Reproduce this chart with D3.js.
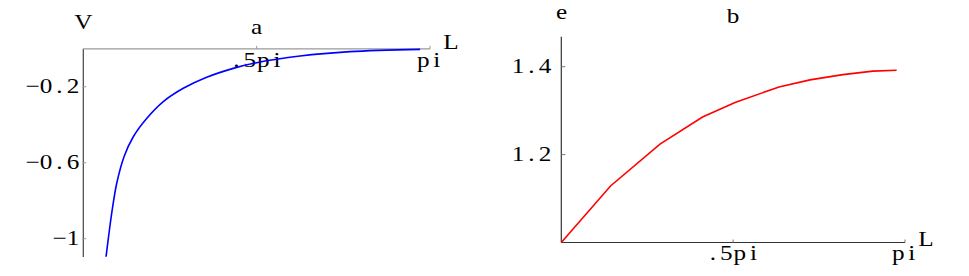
<!DOCTYPE html>
<html><head><meta charset="utf-8">
<script src="https://cdn.jsdelivr.net/npm/d3@7"></script>
<style>body{margin:0;background:#fff}svg{display:block}</style>
</head><body>
<svg id="c" width="969" height="276"></svg>
<script>
// Panel a: V vs L
const aL = [0.206,0.227,0.257,0.303,0.369,0.453,0.574,0.725,0.906,1.118,1.359,1.571,1.964,2.417,3.052];
const aV = [-1.095,-0.998,-0.868,-0.708,-0.568,-0.463,-0.367,-0.278,-0.208,-0.150,-0.103,-0.073,-0.038,-0.015,-0.003];
const aYTicks = [-0.2,-0.6,-1];
const aYLabels = ["-0.2","-0.6","-1"];
// Panel b: e vs L
const bL = [0,0.450,0.902,1.291,1.588,1.990,2.273,2.574,2.848,3.065];
const bE = [1.0,1.1286,1.224,1.2856,1.3185,1.354,1.370,1.382,1.390,1.392];
const bYTicks = [1.2,1.4];
const bYLabels = ["1.2","1.4"];
const xTicks = [Math.PI/2, Math.PI];
const xLabels = [".5pi","pi"];

const svg = d3.select("#c");
const FONT = "Liberation Serif, Times New Roman, serif";
const FS = 21, SX = 1.2, PITCH = 13.5;
// monospaced-looking label: each character centred in a fixed-width cell
function label(x, y, s, anchor) {
  s = s.replace("-", "\u2212");
  const n = s.length;
  let centers;
  if (anchor === "end") centers = d3.range(n).map(i => x - (n - 1 - i) * PITCH - 7);
  else centers = d3.range(n).map(i => x + (i - (n - 1) / 2) * PITCH);
  const g = svg.append("g").attr("transform", `translate(0,${y}) scale(${SX},1)`);
  g.append("text").attr("x", centers.map(c => (c / SX).toFixed(2)).join(" ")).attr("y", 0)
   .attr("text-anchor", "middle").attr("font-family", FONT).attr("font-size", FS)
   .attr("fill", "#000").text(s);
}

// ---- Panel a ----
const xa = d3.scaleLinear().domain([0, Math.PI]).range([83.3, 430]);
const ya = d3.scaleLinear().domain([0, -1]).range([48.8, 238.7]);
const yaMin = -1.0964;
svg.append("line").attr("x1",xa(0)).attr("x2",xa(0)).attr("y1",ya(0)).attr("y2",ya(yaMin))
  .attr("stroke","#444").attr("stroke-width",1.2);
svg.append("line").attr("x1",xa(0)).attr("x2",xa(Math.PI)).attr("y1",ya(0)).attr("y2",ya(0))
  .attr("stroke","#999").attr("stroke-width",1.2);
xTicks.forEach((t,i)=>{
  svg.append("line").attr("x1",xa(t)).attr("x2",xa(t)).attr("y1",ya(0)).attr("y2",ya(0)-3)
    .attr("stroke","#999").attr("stroke-width",1);
  label(xa(t), 67, xLabels[i], "middle");
});
aYTicks.forEach((t,i)=>{
  svg.append("line").attr("x1",xa(0)-1).attr("x2",xa(0)+3).attr("y1",ya(t)).attr("y2",ya(t))
    .attr("stroke","#999").attr("stroke-width",1);
  label(80, ya(t)+6.5, aYLabels[i], "end");
});
label(451, 49, "L", "middle");
label(83.3, 29, "V", "middle");
label(256.7, 34.3, "a", "middle");
const lineA = d3.line().x((d,i)=>xa(aL[i])).y((d,i)=>ya(aV[i])).curve(d3.curveCatmullRom.alpha(0.5));
svg.append("path").attr("d", lineA(aL)).attr("fill","none").attr("stroke","#0000ff").attr("stroke-width",1.6);

// ---- Panel b ----
const xb = d3.scaleLinear().domain([0, Math.PI]).range([561.3, 905]);
const yb = d3.scaleLinear().domain([1.0, 1.4]).range([242.5, 66.7]);
const ybMax = 1.468;
svg.append("line").attr("x1",xb(0)).attr("x2",xb(0)).attr("y1",yb(1.0)).attr("y2",yb(ybMax))
  .attr("stroke","#333").attr("stroke-width",1.2);
svg.append("line").attr("x1",xb(0)).attr("x2",xb(Math.PI)).attr("y1",yb(1.0)).attr("y2",yb(1.0))
  .attr("stroke","#333").attr("stroke-width",1.2);
xTicks.forEach((t,i)=>{
  svg.append("line").attr("x1",xb(t)).attr("x2",xb(t)).attr("y1",yb(1.0)).attr("y2",yb(1.0)-3)
    .attr("stroke","#777").attr("stroke-width",1);
  label(xb(t), 260, xLabels[i], "middle");
});
bYTicks.forEach((t,i)=>{
  svg.append("line").attr("x1",xb(0)).attr("x2",xb(0)+4).attr("y1",yb(t)).attr("y2",yb(t))
    .attr("stroke","#777").attr("stroke-width",1);
  label(552, yb(t)+6.5, bYLabels[i], "end");
});
label(926, 245.7, "L", "middle");
label(561.7, 19, "e", "middle");
label(733, 22.7, "b", "middle");
const lineB = d3.line().x((d,i)=>xb(bL[i])).y((d,i)=>yb(bE[i]));
svg.append("path").attr("d", lineB(bL)).attr("fill","none").attr("stroke","#ff0000").attr("stroke-width",1.6);
</script>
</body></html>
